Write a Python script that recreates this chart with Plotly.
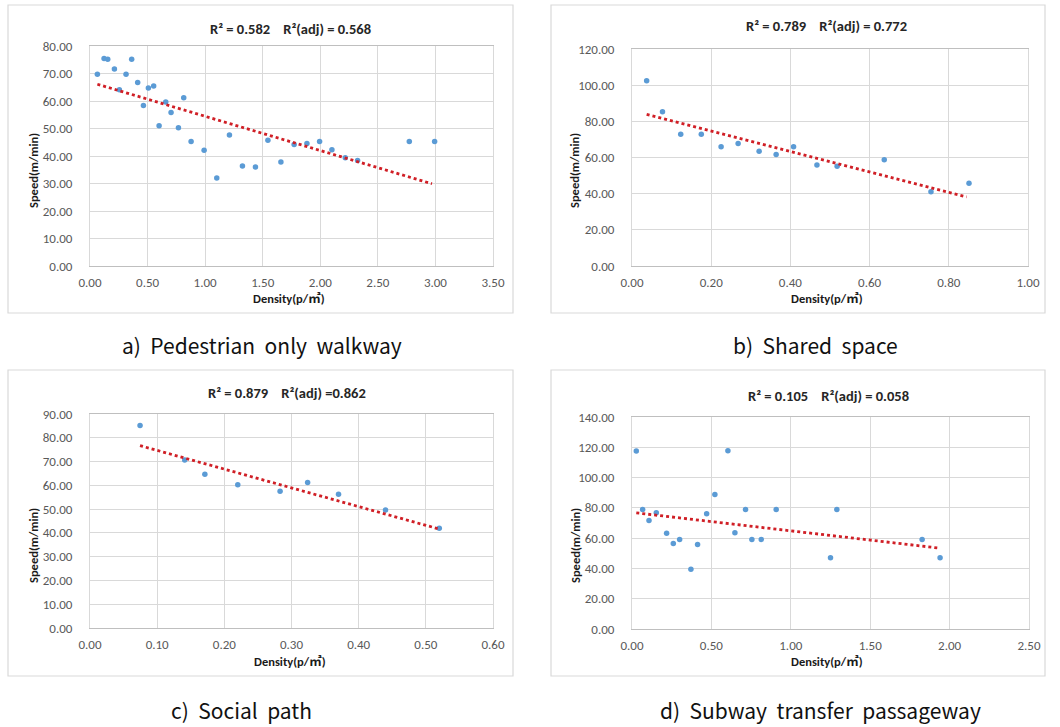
import plotly.graph_objects as go

W, H = 1060, 727

# ---------------- data ----------------
a_density = [0.064, 0.122, 0.154, 0.212, 0.255, 0.313, 0.362, 0.414, 0.464, 0.507, 0.553,
             0.600, 0.658, 0.704, 0.768, 0.814, 0.878, 0.991, 1.101, 1.211, 1.324, 1.437,
             1.545, 1.658, 1.773, 1.884, 1.994, 2.101, 2.217, 2.324, 2.773, 2.993]
a_speed = [69.7, 75.5, 75.2, 71.6, 64.1, 69.7, 75.2, 66.7, 58.4, 64.7, 65.5,
           51.0, 59.6, 55.8, 50.3, 61.2, 45.3, 42.1, 32.0, 47.6, 36.4, 36.0,
           45.7, 37.8, 44.2, 44.5, 45.3, 42.3, 39.4, 38.4, 45.3, 45.3]
a_trend_x = [0.064, 2.97]
a_trend_y = [66.1, 29.9]

b_density = [0.037, 0.077, 0.123, 0.175, 0.225, 0.268, 0.321, 0.364, 0.408, 0.467,
             0.518, 0.637, 0.755, 0.851]
b_speed = [102.5, 85.3, 72.9, 72.9, 65.9, 67.7, 63.5, 61.7, 65.9, 55.8,
           55.2, 58.7, 41.0, 45.8]
b_trend_x = [0.037, 0.845]
b_trend_y = [83.8, 38.2]

c_density = [0.0745, 0.141, 0.171, 0.220, 0.283, 0.324, 0.370, 0.440, 0.520]
c_speed = [85.2, 70.7, 64.7, 60.2, 57.5, 61.2, 56.3, 49.6, 41.9]
c_trend_x = [0.0745, 0.520]
c_trend_y = [76.7, 41.6]

d_density = [0.027, 0.067, 0.107, 0.153, 0.218, 0.260, 0.300, 0.371, 0.413, 0.470, 0.522,
             0.604, 0.648, 0.715, 0.755, 0.814, 0.908, 1.250, 1.290, 1.827, 1.940]
d_speed = [117.5, 78.9, 71.6, 76.7, 63.3, 56.4, 59.1, 39.5, 55.8, 76.1, 88.8,
           117.7, 63.5, 78.9, 59.1, 59.1, 78.9, 47.0, 78.9, 59.1, 47.0]
d_trend_x = [0.027, 1.936]
d_trend_y = [76.7, 53.4]

SP = "\u00a0"
titles = ["R² = 0.582" + SP * 4 + "R²(adj) = 0.568",
          "R² = 0.789" + SP * 4 + "R²(adj) = 0.772",
          "R² = 0.879" + SP * 4 + "R²(adj) =0.862",
          "R² = 0.105" + SP * 4 + "R²(adj) = 0.058"]
captions = ["a)" + SP * 2 + "Pedestrian" + SP * 2 + "only" + SP * 2 + "walkway",
            "b)" + SP * 2 + "Shared" + SP * 2 + "space",
            "c)" + SP * 2 + "Social" + SP * 2 + "path",
            "d)" + SP * 2 + "Subway" + SP * 2 + "transfer" + SP * 2 + "passageway"]
x_label = "Density(p/㎡)"
y_label = "Speed(m/min)"

x_ranges = [[0, 3.5], [0, 1.0], [0, 0.6], [0, 2.5]]
x_dticks = [0.5, 0.2, 0.1, 0.5]
y_ranges = [[0, 80], [0, 120], [0, 90], [0, 140]]
y_dticks = [10, 20, 10, 20]

# ---------------- layout geometry (pixels) ----------------
plot_px = [(90, 493, 46, 266), (632, 1028, 49, 266), (90, 493, 414, 628), (632, 1029, 417, 629)]
box_px = [(8, 513, 5, 313), (551, 1045, 5, 313), (8, 513, 370, 676), (551, 1045, 370, 676)]
title_px = [(290, 29), (826, 26), (287, 393), (828, 396)]
xlab_px = [(289, 298), (827, 298), (290, 661), (827, 661)]
ylab_px = [(33, 171), (574, 171), (33, 546), (575, 546)]
cap_px = [(262, 345), (815, 345), (241, 710), (820, 710)]

def px(x):
    return x / W

def py(y):
    return 1 - y / H

FONT = "Calibri, Lato, 'Noto Sans CJK KR', sans-serif"
BLUE = "#5B9BD5"
RED = "#D01F26"
GRID = "#D9D9D9"

series = [(a_density, a_speed, a_trend_x, a_trend_y),
          (b_density, b_speed, b_trend_x, b_trend_y),
          (c_density, c_speed, c_trend_x, c_trend_y),
          (d_density, d_speed, d_trend_x, d_trend_y)]

fig = go.Figure()
layout = {}
annotations = []
shapes = []

for i, (xs, ys, tx, ty) in enumerate(series):
    n = "" if i == 0 else str(i + 1)
    fig.add_trace(go.Scatter(x=xs, y=ys, mode="markers", xaxis="x" + n, yaxis="y" + n,
                             marker=dict(color=BLUE, size=5.5), showlegend=False))
    fig.add_trace(go.Scatter(x=tx, y=ty, mode="lines", xaxis="x" + n, yaxis="y" + n,
                             line=dict(color=RED, width=2.8, dash="dot"), showlegend=False))
    l, r, t, b = plot_px[i]
    layout["xaxis" + n] = dict(domain=[px(l), px(r)], range=x_ranges[i], dtick=x_dticks[i],
                               tick0=0, tickformat=".2f", showgrid=True, gridcolor=GRID,
                               zeroline=False, showline=True, linecolor="#BFBFBF", mirror=True,
                               anchor="y" + n, ticks="", ticklabelstandoff=4, automargin=False,
                               tickfont=dict(family=FONT, size=13, color="#595959"),
                               fixedrange=True)
    layout["yaxis" + n] = dict(domain=[py(b), py(t)], range=y_ranges[i], dtick=y_dticks[i],
                               tick0=0, tickformat=".2f", showgrid=True, gridcolor=GRID,
                               zeroline=False, showline=True, linecolor=GRID, mirror=True,
                               anchor="x" + n, ticks="", ticklabelstandoff=14, automargin=False,
                               tickfont=dict(family=FONT, size=13, color="#595959"),
                               fixedrange=True)
    bl, br, bt, bb = box_px[i]
    shapes.append(dict(type="rect", xref="paper", yref="paper", x0=px(bl), x1=px(br),
                       y0=py(bb), y1=py(bt), line=dict(color="#D9D9D9", width=1.2),
                       fillcolor="rgba(0,0,0,0)", layer="below"))
    annotations.append(dict(text="<b>" + titles[i] + "</b>", x=px(title_px[i][0]), y=py(title_px[i][1]),
                            xref="paper", yref="paper", showarrow=False, xanchor="center", yanchor="middle",
                            font=dict(family=FONT, size=14.5, color="#262626")))
    annotations.append(dict(text="<b>" + x_label + "</b>", x=px(xlab_px[i][0]), y=py(xlab_px[i][1]),
                            xref="paper", yref="paper", showarrow=False, xanchor="center", yanchor="middle",
                            font=dict(family=FONT, size=12.5, color="#1a1a1a")))
    annotations.append(dict(text="<b>" + y_label + "</b>", x=px(ylab_px[i][0]), y=py(ylab_px[i][1]),
                            xref="paper", yref="paper", showarrow=False, xanchor="center", yanchor="middle",
                            textangle=-90, font=dict(family=FONT, size=12.5, color="#1a1a1a")))
    annotations.append(dict(text=captions[i], x=px(cap_px[i][0]), y=py(cap_px[i][1]),
                            xref="paper", yref="paper", showarrow=False, xanchor="center", yanchor="middle",
                            font=dict(family="'Noto Sans CJK KR', 'Noto Sans', sans-serif", size=21,
                                      color="#111111")))

fig.update_layout(width=W, height=H, margin=dict(l=0, r=0, t=0, b=0, pad=0, autoexpand=False),
                  paper_bgcolor="white", plot_bgcolor="white", showlegend=False,
                  annotations=annotations, shapes=shapes, **layout)

fig.write_html("out.html", config={"displayModeBar": False},
               post_script="document.body.style.margin='0px';document.body.style.overflow='hidden';")
